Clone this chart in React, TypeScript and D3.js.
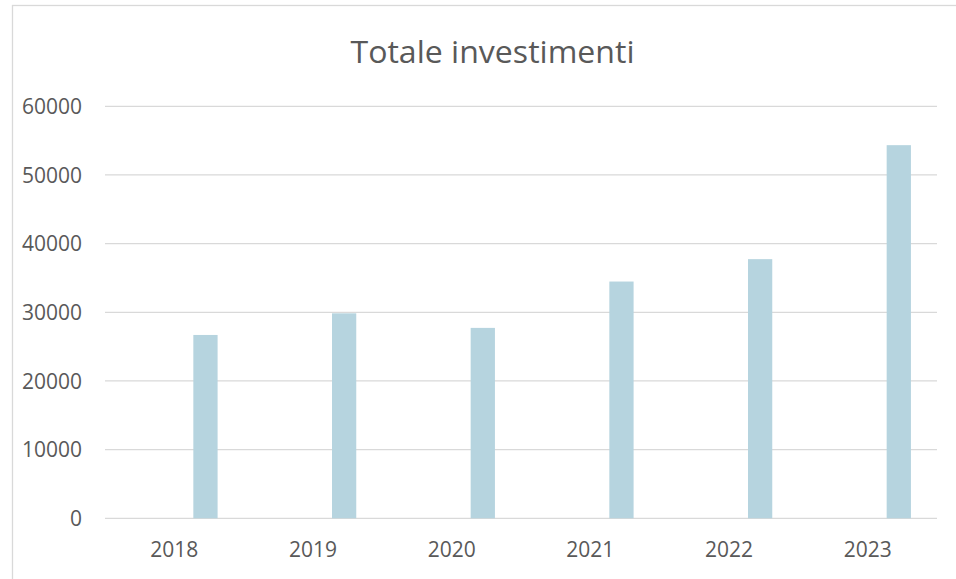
import React from "react";
import * as d3 from "d3";

const years = ["2018", "2019", "2020", "2021", "2022", "2023"];
const investimenti = [26700, 29850, 27730, 34480, 37740, 54340];
const yTicks = [0, 10000, 20000, 30000, 40000, 50000, 60000];
const title = "Totale investimenti";

export default function App() {
  const W = 956, H = 579;
  const x = d3.scaleBand<string>().domain(years).range([105, 937]).padding(0);
  const y = d3.scaleLinear().domain([0, 60000]).range([518.3, 106.3]);
  const bw = x.bandwidth();
  const barOffset = bw * 0.637;
  const barWidth = bw * 0.175;
  const font = "'Open Sans', 'Noto Sans', sans-serif";
  const textColor = "#595959";
  const grid = "#D9D9D9";
  return (
    <svg width={W} height={H} style={{ position: "absolute", left: 0, top: 0, display: "block" }}>
      <rect x={0} y={0} width={W} height={H} fill="#fff" />
      <rect x={12.5} y={5.5} width={1000} height={700} fill="#fff" stroke={grid} strokeWidth={1.3} />
      <text x={492.5} y={62.7} textAnchor="middle" fontFamily={font} fontSize={31} fill={textColor}
        textLength={284} lengthAdjust="spacingAndGlyphs">{title}</text>
      {yTicks.map((t) => (
        <g key={t}>
          <line x1={105} x2={937} y1={y(t)} y2={y(t)} stroke={grid} strokeWidth={1.3} />
          <text x={82} y={y(t)} dy="0.36em" textAnchor="end" fontFamily={font} fontSize={21} fill={textColor}>{t}</text>
        </g>
      ))}
      {years.map((yr, i) => (
        <rect key={yr} x={(x(yr) as number) + barOffset} y={y(investimenti[i])}
          width={barWidth} height={y(0) - y(investimenti[i])} fill="#B6D4DF" />
      ))}
      {years.map((yr) => (
        <text key={yr} x={(x(yr) as number) + bw / 2} y={556.7} textAnchor="middle" fontFamily={font} fontSize={21} fill={textColor}>{yr}</text>
      ))}
    </svg>
  );
}
